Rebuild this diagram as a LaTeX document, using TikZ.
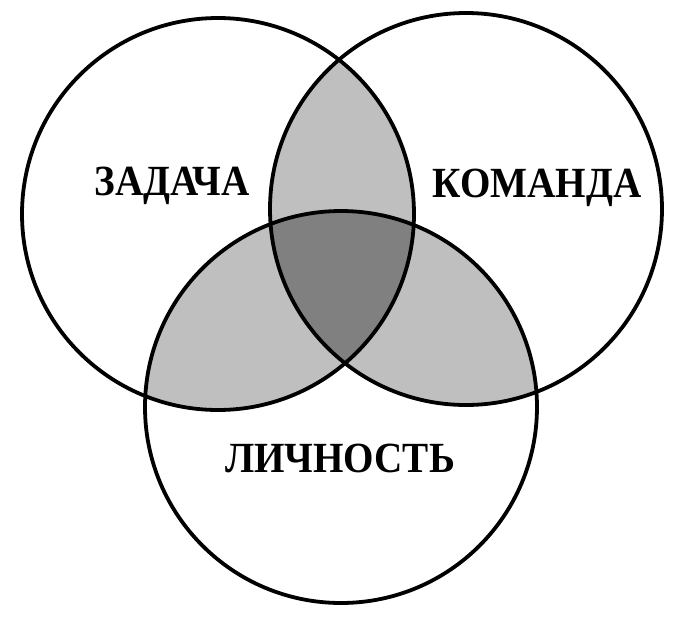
\documentclass[tikz,border=0pt]{standalone}
\usepackage{fontspec}
\setmainfont{Liberation Serif}
\begin{document}
\begin{tikzpicture}[x=1pt,y=-1pt,
  ring/.style={draw=black,line width=3.8pt},
  pairfill/.style={fill=black!25},
  triplefill/.style={fill=black!50},
  lbl/.style={font=\fontsize{43}{43}\selectfont\bfseries,anchor=base,inner sep=0pt,xscale=0.91}]
\useasboundingbox (0,0) rectangle (697,622);
\fill[white] (0,0) rectangle (697,622);
\coordinate (cl) at (218,214);
\coordinate (cr) at (466,209);
\coordinate (cb) at (341,407);
\def\R{196}
% pairwise overlaps
\begin{scope}
  \clip (cl) circle (\R);
  \fill[pairfill] (cr) circle (\R);
  \fill[pairfill] (cb) circle (\R);
\end{scope}
\begin{scope}
  \clip (cr) circle (\R);
  \fill[pairfill] (cb) circle (\R);
\end{scope}
% triple overlap
\begin{scope}
  \clip (cl) circle (\R);
  \clip (cr) circle (\R);
  \fill[triplefill] (cb) circle (\R);
\end{scope}
\draw[ring] (cl) circle (\R);
\draw[ring] (cr) circle (\R);
\draw[ring] (cb) circle (\R);
\node[lbl] (zad) at (172,195) {ЗАДАЧА};
\node[lbl] (kom) at (537,197) {КОМАНДА};
\node[lbl] (lich) at (340,472) {ЛИЧНОСТЬ};
\end{tikzpicture}
\end{document}
